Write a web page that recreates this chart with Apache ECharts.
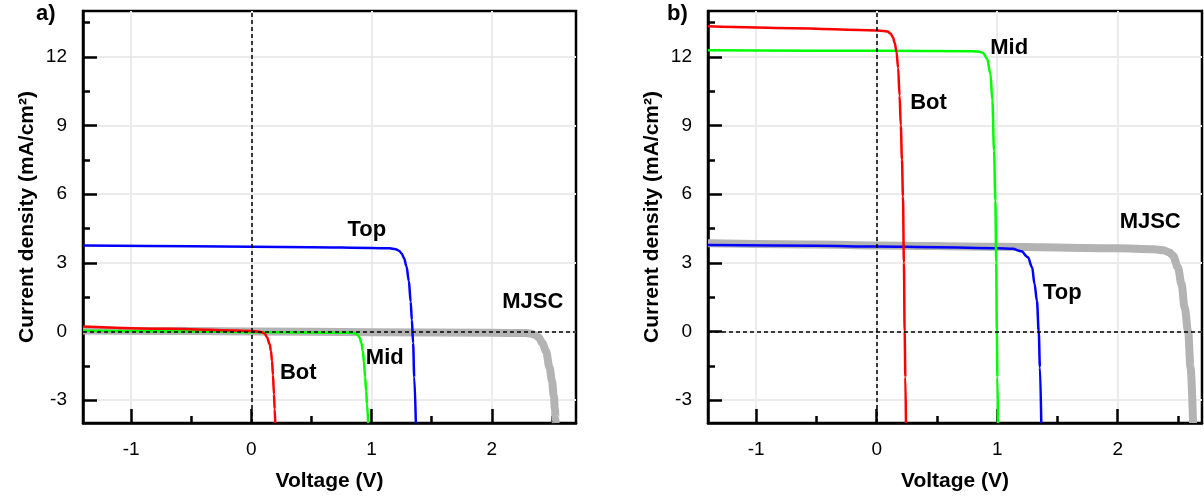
<!DOCTYPE html>
<html><head><meta charset="utf-8">
<script src="https://cdn.jsdelivr.net/npm/echarts@6/dist/echarts.min.js"></script>
<style>html,body{margin:0;padding:0;background:#fff}#c{width:1204px;height:498px}</style>
</head><body><div id="c"></div>
<script>
// ---- Data ----
const xMajorTicks = [-1, 0, 1, 2];
const xMinorTicks = [-0.5, 0.5, 1.5, 2.5];
const yMajorTicks = [-3, 0, 3, 6, 9, 12];
const yMinorTicks = [-1.5, 1.5, 4.5, 7.5, 10.5, 13.5];
const panelLabels = ['a)', 'b)'];
const xTitle = 'Voltage (V)';
const yTitle = 'Current density (mA/cm²)';

// Panel a
const aMJSC = [[-1.4,0.04],[-0.5,0.02],[0,0.0],[1,-0.03],[2,-0.06],[2.28,-0.07],[2.32,-0.09],[2.36,-0.15],[2.39,-0.26],[2.42,-0.5],[2.45,-0.85],[2.48,-1.58],[2.5,-2.15],[2.515,-2.8],[2.525,-3.4],[2.53,-3.83],[2.532,-4]];
const aTop = [[-1.4,3.76],[-0.5,3.72],[0.5,3.68],[1.0,3.65],[1.15,3.63],[1.2,3.59],[1.23,3.52],[1.25,3.4],[1.27,3.2],[1.29,2.85],[1.31,2.2],[1.325,1.3],[1.335,0.5],[1.345,-0.5],[1.355,-2.0],[1.368,-4]];
const aMid = [[-1.4,0.03],[-0.5,0.0],[0,-0.03],[0.5,-0.05],[0.83,-0.06],[0.86,-0.08],[0.88,-0.13],[0.9,-0.27],[0.915,-0.5],[0.927,-0.85],[0.937,-1.35],[0.946,-2.0],[0.955,-2.6],[0.962,-3.18],[0.972,-4]];
const aBot = [[-1.4,0.22],[-0.7,0.12],[0,0.02],[0.06,-0.01],[0.09,-0.04],[0.11,-0.09],[0.13,-0.25],[0.152,-0.55],[0.163,-0.85],[0.172,-1.28],[0.18,-1.9],[0.188,-2.74],[0.194,-3.4],[0.199,-4]];
const aLabels = [[0.96,4.45,'Top'],[2.34,1.3,'MJSC'],[1.11,-1.15,'Mid'],[0.39,-1.81,'Bot']];

// Panel b
const bMJSC = [[-1.4,3.85],[-0.5,3.8],[0,3.76],[1,3.7],[2,3.63],[2.3,3.59],[2.38,3.55],[2.43,3.45],[2.46,3.31],[2.5,2.8],[2.53,2.07],[2.556,1.05],[2.585,0],[2.605,-1.58],[2.626,-4]];
const bTop = [[-1.4,3.78],[-0.5,3.74],[0,3.71],[0.5,3.68],[1.0,3.64],[1.13,3.61],[1.2,3.5],[1.255,3.24],[1.29,2.8],[1.31,2.07],[1.33,1.34],[1.345,0],[1.355,-1.58],[1.366,-4]];
const bMid = [[-1.4,12.28],[0,12.26],[0.8,12.24],[0.84,12.23],[0.883,12.17],[0.916,11.92],[0.944,11.26],[0.96,10.1],[0.974,7.9],[0.985,5.72],[0.992,3],[0.997,0],[1.002,-2],[1.007,-4]];
const bBot = [[-1.4,13.33],[-0.7,13.25],[0,13.15],[0.06,13.13],[0.09,13.1],[0.115,13.02],[0.135,12.85],[0.15,12.6],[0.165,12.2],[0.178,11.5],[0.19,10.3],[0.2,9.0],[0.21,7.5],[0.218,5.9],[0.226,3.0],[0.232,0],[0.238,-2],[0.243,-4]];
const bLabels = [[1.10,12.37,'Mid'],[0.43,9.97,'Bot'],[2.27,4.8,'MJSC'],[1.54,1.69,'Top']];

const panels = [
  {MJSC: aMJSC, Top: aTop, Mid: aMid, Bot: aBot, labels: aLabels},
  {MJSC: bMJSC, Top: bTop, Mid: bMid, Bot: bBot, labels: bLabels}
];

// ---- Styles / layout ----
const FONT = '"Liberation Sans", Arial, sans-serif';
const gridPos = [
  {left: 83, top: 11, width: 493, height: 412},
  {left: 708, top: 11, width: 494, height: 412}
];
const titlePos = [{left: 36, top: 3}, {left: 667, top: 3}];
const colors = {MJSC: '#b3b3b3', Top: '#0000ff', Mid: '#00ff00', Bot: '#ff0000'};
const widths = {MJSC: 8, Top: 2.5, Mid: 2.5, Bot: 2.5};
const black = '#000';

const option = {
  animation: false,
  backgroundColor: '#fff',
  textStyle: {fontFamily: FONT},
  title: panelLabels.map((t, i) => ({
    text: t, left: titlePos[i].left, top: titlePos[i].top, padding: 0,
    textStyle: {fontSize: 22, fontWeight: 'bold', color: black, fontFamily: FONT}
  })),
  grid: gridPos.map(g => Object.assign({show: true, borderColor: black, borderWidth: 2.5, backgroundColor: '#fff', containLabel: false}, g)),
  xAxis: [],
  yAxis: [],
  series: []
};

gridPos.forEach((g, gi) => {
  option.xAxis.push({
    type: 'value', gridIndex: gi, min: -1.4, max: 2.7, position: 'bottom',
    axisLine: {show: true, onZero: false, lineStyle: {color: black, width: 2.5}},
    axisTick: {show: true, inside: true, length: 14, customValues: xMajorTicks, lineStyle: {color: black, width: 2.5}},
    axisLabel: {show: true, customValues: xMajorTicks, margin: 17, fontSize: 19, color: black, fontFamily: FONT},
    splitLine: {show: true, lineStyle: {color: '#ebebeb', width: 2}},
    name: xTitle, nameLocation: 'middle', nameGap: 48,
    nameTextStyle: {fontSize: 21, fontWeight: 'bold', color: black, fontFamily: FONT}
  });
  option.xAxis.push({
    type: 'value', gridIndex: gi, min: -1.4, max: 2.7, position: 'bottom',
    axisLine: {show: false, onZero: false},
    axisTick: {show: true, inside: true, length: 7, customValues: xMinorTicks, lineStyle: {color: black, width: 2.5}},
    axisLabel: {show: false},
    splitLine: {show: false}
  });
  option.yAxis.push({
    type: 'value', gridIndex: gi, min: -4, max: 14, position: 'left',
    axisLine: {show: true, onZero: false, lineStyle: {color: black, width: 2.5}},
    axisTick: {show: true, inside: true, length: 14, customValues: yMajorTicks, lineStyle: {color: black, width: 2.5}},
    axisLabel: {show: true, customValues: yMajorTicks, margin: 16, fontSize: 19, color: black, fontFamily: FONT},
    splitLine: {show: true, lineStyle: {color: '#ebebeb', width: 2}},
    name: yTitle, nameLocation: 'middle', nameGap: 45,
    nameTextStyle: {fontSize: 21, fontWeight: 'bold', color: black, fontFamily: FONT}
  });
  option.yAxis.push({
    type: 'value', gridIndex: gi, min: -4, max: 14, position: 'left',
    axisLine: {show: false, onZero: false},
    axisTick: {show: true, inside: true, length: 7, customValues: yMinorTicks, lineStyle: {color: black, width: 2.5}},
    axisLabel: {show: false},
    splitLine: {show: false}
  });

  const p = panels[gi];
  ['MJSC', 'Top', 'Mid', 'Bot'].forEach((name, si) => {
    const s = {
      type: 'line', name: name, xAxisIndex: gi * 2, yAxisIndex: gi * 2,
      data: p[name], showSymbol: false, symbol: 'none',
      smooth: 0.35, smoothMonotone: 'x', clip: true,
      lineStyle: {color: colors[name], width: widths[name], cap: 'butt', join: 'round'},
      z: 2 + si
    };
    if (name === 'Bot') {
      s.markLine = {
        silent: true, symbol: ['none', 'none'], label: {show: false},
        lineStyle: {color: black, width: 1.5, type: [4, 3]},
        data: [{xAxis: 0}, {yAxis: 0}], z: 10
      };
    }
    option.series.push(s);
  });
  option.series.push({
    type: 'scatter', xAxisIndex: gi * 2, yAxisIndex: gi * 2,
    data: p.labels, symbolSize: 0, silent: true, z: 20,
    itemStyle: {color: black, opacity: 1},
    label: {
      show: true, position: 'inside', formatter: d => d.value[2], opacity: 1,
      fontSize: 22, fontWeight: 'bold', color: black, textBorderWidth: 0, fontFamily: FONT
    }
  });
});

const chart = echarts.init(document.getElementById('c'), null, {renderer: 'canvas'});
chart.setOption(option);
</script>
</body></html>
